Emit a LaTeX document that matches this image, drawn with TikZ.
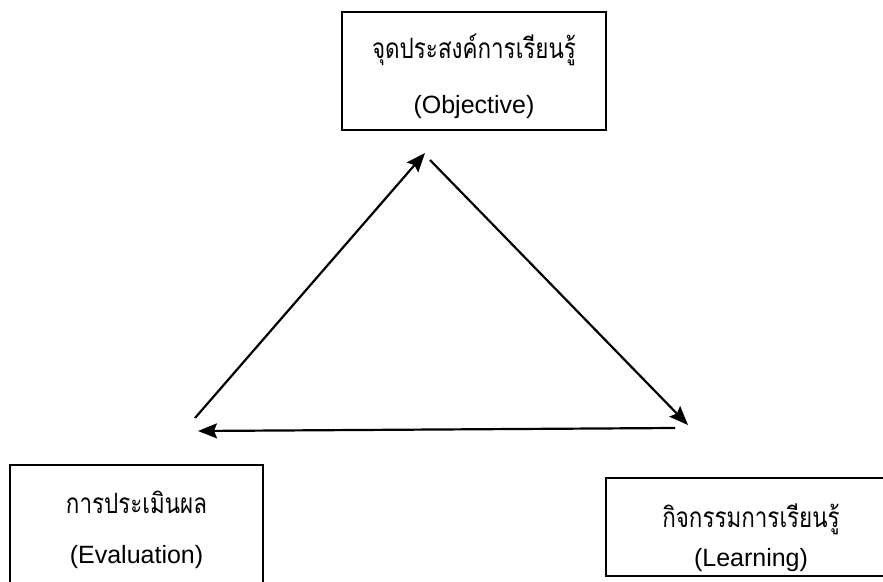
\documentclass[tikz,border=0pt]{standalone}
\usepackage{fontspec}
\setmainfont{Liberation Sans}
\newfontfamily\thaifont[Script=Thai,FakeStretch=0.8]{Loma}
\usepackage{tikz}
\usetikzlibrary{arrows.meta}

\begin{document}
\begin{tikzpicture}[x=1pt,y=-1pt]
\path[use as bounding box,clip] (0,0) rectangle (883,581);
\tikzset{BoxStyle/.style = {
draw,
line width = 2pt,
align = center,
inner sep = 0pt,
font = \fontsize{25}{55}\selectfont}}
\tikzset{ArrowStyle/.style = {
line width = 2.2pt,
-{Stealth[length=19pt,width=15pt,inset=3pt]}}}
\newcommand{\thtext}[1]{{\thaifont\fontsize{28}{28}\selectfont #1}}
\node[BoxStyle,minimum width=264pt,minimum height=118pt] (O) at (474,71) {\thtext{\rule{0pt}{36pt}จุดประสงค์การเรียนรู้}\\(Objective)};
\node[BoxStyle,minimum width=253pt,minimum height=130pt,font=\fontsize{25}{50}\selectfont] (E) at (136.5,530) {\thtext{การประเมินผล}\\(Evaluation)};
\node[BoxStyle,minimum width=290pt,minimum height=98pt,font=\fontsize{25}{39}\selectfont] (L) at (751,527) {\thtext{\rule{0pt}{46pt}กิจกรรมการเรียนรู้}\\(Learning)};
\coordinate (OL) at (425,153);
\coordinate (OR) at (430,160);
\coordinate (LT) at (688,425);
\coordinate (LB) at (675,428);
\coordinate (EB) at (198,431);
\coordinate (ET) at (195,418);
\draw[ArrowStyle] (ET) -- (OL);
\draw[ArrowStyle] (OR) -- (LT);
\draw[ArrowStyle] (LB) -- (EB);
\end{tikzpicture}
\end{document}
